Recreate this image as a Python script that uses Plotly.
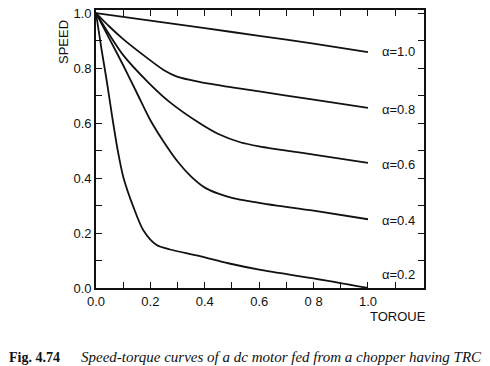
import plotly.graph_objects as go

# ---- data ----
torque_a10 = [0.0, 0.2, 0.4, 0.6, 0.8, 1.0]
speed_a10 = [1.0, 0.972, 0.945, 0.917, 0.889, 0.858]

torque_a08 = [0.0, 0.05, 0.1, 0.19, 0.25, 0.3, 0.38, 0.5, 0.6, 0.8, 1.0]
speed_a08 = [1.0, 0.95, 0.905, 0.835, 0.792, 0.768, 0.75, 0.73, 0.715, 0.685, 0.655]

torque_a06 = [0.0, 0.05, 0.1, 0.19, 0.27, 0.38, 0.45, 0.53, 0.6, 0.8, 1.0]
speed_a06 = [1.0, 0.92, 0.847, 0.75, 0.677, 0.6, 0.56, 0.53, 0.515, 0.485, 0.455]

torque_a04 = [0.0, 0.05, 0.1, 0.15, 0.2, 0.25, 0.3, 0.35, 0.4, 0.45, 0.5, 0.61, 0.8, 1.0]
speed_a04 = [1.0, 0.905, 0.81, 0.71, 0.61, 0.53, 0.46, 0.405, 0.365, 0.343, 0.328, 0.308, 0.281, 0.25]

torque_a02 = [0.0, 0.02, 0.04, 0.06, 0.08, 0.1, 0.137, 0.174, 0.223, 0.272, 0.382, 0.486, 0.61, 0.8, 1.0]
speed_a02 = [1.0, 0.87, 0.75, 0.62, 0.5, 0.405, 0.296, 0.21, 0.156, 0.14, 0.116, 0.09, 0.065, 0.035, 0.0]

curve_labels = ["α=1.0", "α=0.8", "α=0.6", "α=0.4", "α=0.2"]
label_y = [0.86, 0.65, 0.45, 0.245, 0.05]

x_tickvals = [0.0, 0.1, 0.2, 0.3, 0.4, 0.5, 0.6, 0.7, 0.8, 0.9, 1.0, 1.1]
x_ticktext = ["0.0", "", "0.2", "", "0.4", "", "0.6", "", "0 8", "", "1.0", ""]
y_tickvals = [0.0, 0.1, 0.2, 0.3, 0.4, 0.5, 0.6, 0.7, 0.8, 0.9, 1.0]
y_ticktext = ["0.0", "", "0.2", "", "0.4", "", "0.6", "", "0.8", "", "1.0"]

x_title = "TOROUE"
y_title = "SPEED"
fig_no = "Fig. 4.74"
caption = "Speed-torque curves of a dc motor fed from a chopper having TRC"

# ---- layout geometry (page has an 8px body margin) ----
OFF = 8
W, H = 490 - OFF, 366 - OFF
L, R, T, B = 96 - OFF, 490 - 424, 10 - OFF, 366 - 288
pw, ph = W - L - R, H - T - B


def px_to_paper(xp, yp):
    # xp, yp are page pixel positions
    return (xp - OFF - L) / pw, (H - B - (yp - OFF)) / ph


fig = go.Figure()
series = [(torque_a10, speed_a10), (torque_a08, speed_a08), (torque_a06, speed_a06),
          (torque_a04, speed_a04), (torque_a02, speed_a02)]
for (tx, sy), name in zip(series, curve_labels):
    fig.add_trace(go.Scatter(x=tx, y=sy, mode="lines", name=name,
                             line=dict(color="#111111", width=1.8, shape="spline", smoothing=0.8),
                             showlegend=False, cliponaxis=False))

for name, ly in zip(curve_labels, label_y):
    fig.add_annotation(x=1.045, y=ly, xref="x", yref="y", text=name, showarrow=False,
                       xanchor="left", yanchor="middle",
                       font=dict(family="Liberation Sans, Arial", size=13, color="#111111"))

sx, sy_ = px_to_paper(64, 42)
fig.add_annotation(x=sx, y=sy_, xref="paper", yref="paper", text=y_title, textangle=-90,
                   showarrow=False, xanchor="center", yanchor="middle",
                   font=dict(family="Liberation Sans, Arial", size=13, color="#111111"))
tx_, ty_ = px_to_paper(398, 316)
fig.add_annotation(x=tx_, y=ty_, xref="paper", yref="paper", text=x_title,
                   showarrow=False, xanchor="center", yanchor="middle",
                   font=dict(family="Liberation Sans, Arial", size=13, color="#111111"))

fx, fy = px_to_paper(7, 357)
fig.add_annotation(x=fx, y=fy, xref="paper", yref="paper", text="<b>" + fig_no + "</b>",
                   showarrow=False, xanchor="left", yanchor="middle",
                   font=dict(family="Liberation Serif, Times New Roman", size=14, color="#111111"))
cx, cy = px_to_paper(79, 357)
fig.add_annotation(x=cx, y=cy, xref="paper", yref="paper", text="<i>" + caption + "</i>",
                   showarrow=False, xanchor="left", yanchor="middle",
                   font=dict(family="Liberation Serif, Times New Roman", size=15, color="#111111"))

axis_common = dict(showgrid=False, zeroline=False, showline=True, linecolor="#111111",
                   linewidth=1.8, mirror="ticks", ticks="inside", ticklen=6, tickwidth=1.2,
                   tickcolor="#111111", tickmode="array", ticklabeloverflow="allow",
                   tickfont=dict(family="Liberation Sans, Arial", size=13, color="#111111"))

fig.update_xaxes(range=[0, 1.206], tickvals=x_tickvals, ticktext=x_ticktext, **axis_common)
fig.update_yaxes(range=[0, 1.011], tickvals=y_tickvals, ticktext=y_ticktext, **axis_common)

fig.update_layout(width=W, height=H, margin=dict(l=L, r=R, t=T, b=B, autoexpand=False),
                  plot_bgcolor="white", paper_bgcolor="white")

fig.write_html("out.html")
